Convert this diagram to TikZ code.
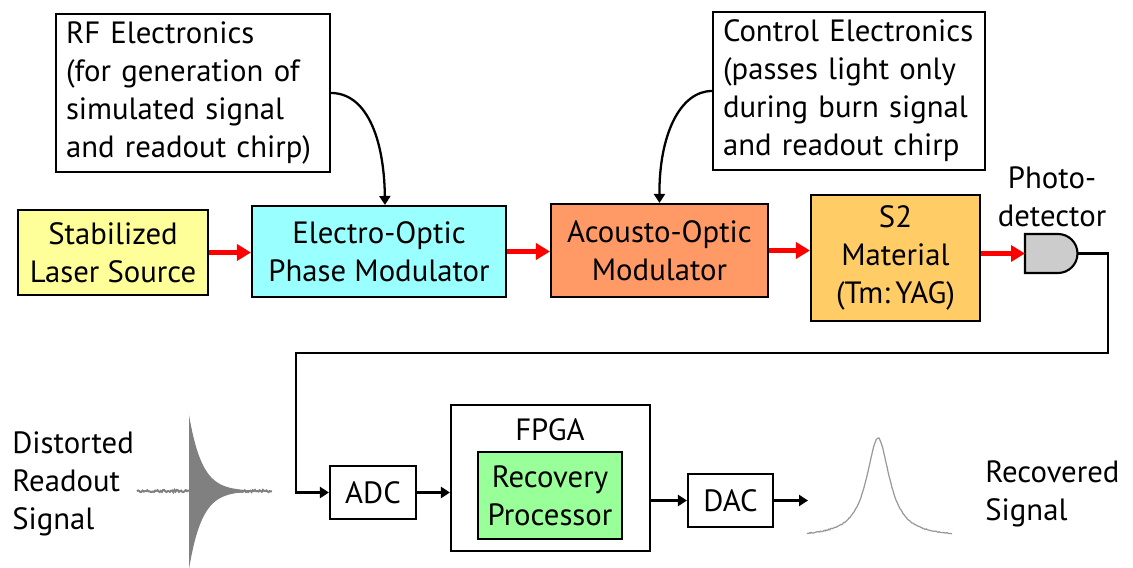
\documentclass[tikz,border=0pt]{standalone}
\usepackage{fontspec}
\setmainfont{PT Sans}
\usetikzlibrary{arrows.meta}

\definecolor{laserfill}{HTML}{FFFF99}
\definecolor{eomfill}{HTML}{99FFFF}
\definecolor{aomfill}{HTML}{FF9966}
\definecolor{crystalfill}{HTML}{FFCC66}
\definecolor{procfill}{HTML}{99FF99}

\begin{document}
\begin{tikzpicture}[x=0.02cm, y=-0.02cm,
    font=\fontsize{17.5}{21.6}\selectfont,
    box/.style={draw, line width=1.2pt, align=center, inner sep=0pt},
    note/.style={draw, line width=1.2pt, align=left, inner xsep=0.2cm,
        minimum height=3.16cm},
    beam/.style={red, line width=2.5pt, -{Triangle[length=0.28cm, width=0.32cm]}},
    wire/.style={line width=1.3pt, -{Triangle[length=0.18cm, width=0.22cm]}},
    trace/.style={gray, line width=1.1pt}]
    \useasboundingbox (0,0) rectangle (1133,568);

    % Optical chain
    \node[box, fill=laserfill, minimum width=3.8cm, minimum height=1.7cm]
        (laser) at (113,252.5) {Stabilized\\Laser Source};
    \node[box, fill=eomfill, minimum width=5.08cm, minimum height=1.82cm]
        (eom) at (379,251.5) {Electro-Optic\\Phase Modulator};
    \node[box, fill=aomfill, minimum width=4.34cm, minimum height=1.86cm]
        (aom) at (659.5,250.5) {Acousto-Optic\\Modulator};
    \node[box, fill=crystalfill, minimum width=3.38cm, minimum height=2.52cm]
        (crystal) at (895.5,258) {S2\\Material\\(Tm:\,YAG)};

    % Drive electronics
    \node[note, text width=5.08cm] (rf) at (193,93)
        {RF Electronics\\(for generation of\\simulated signal\\and readout chirp)};
    \node[note, text width=5.04cm] (ctrl) at (849,91)
        {Control Electronics\\(passes light only\\during burn signal\\and readout chirp};

    % Photodetector
    \coordinate (pdin) at (1025,253.5);
    \coordinate (pdout) at (1077.5,253.5);
    \draw[line width=1.2pt, fill=gray!40] (1025,234) -- (1058,234)
        arc[start angle=90, end angle=-90, radius=0.39cm] -- (1025,273) -- cycle;
    \node[align=center] (pdlabel) at (1052,197) {Photo-\\detector};

    % Digital chain
    \node[box, minimum width=1.72cm, minimum height=1.06cm] (adc) at (373,492.5) {ADC};
    \node[box, minimum width=3.98cm, minimum height=2.92cm] (fpga) at (550.5,478) {};
    \node (fpgalabel) at (550,430) {FPGA};
    \node[box, fill=procfill, minimum width=2.88cm, minimum height=1.74cm]
        (proc) at (550,495.5) {Recovery\\Processor};
    \node[box, minimum width=1.7cm, minimum height=1.06cm] (dac) at (730.5,500.5) {DAC};

    % Signal labels
    \node[anchor=west, align=left, inner sep=0pt] (distlabel) at (12,484)
        {Distorted\\Readout\\Signal};
    \node[anchor=west, align=left, inner sep=0pt] (reclabel) at (985,494)
        {Recovered\\Signal};

    % Beam path
    \draw[beam] (laser.east) -- (laser.east -| eom.west);
    \draw[beam] (eom.east) -- (eom.east -| aom.west);
    \draw[beam] (aom.east) -- (aom.east -| crystal.west);
    \draw[beam] (crystal.east |- pdin) -- (pdin);

    % Control lines
    \draw[wire] (rf.east) .. controls (365,93) and (384,135) .. ([xshift=0.12cm]eom.north);
    \draw[wire] (ctrl.west) .. controls (680,91) and (659,135) .. (aom.north);

    % Detector output to the ADC
    \coordinate (turnA) at (1108,353);
    \coordinate (turnB) at (296,353);
    \draw[wire] (pdout) -| (turnA) -- (turnB) |- (adc.west);
    \draw[wire] (adc.east) -- (adc.east -| fpga.west);
    \draw[wire] (fpga.east |- dac.west) -- (dac.west);
    \coordinate (sigout) at (808,500.5);
    \draw[wire] (dac.east) -- (sigout);

    % Distorted readout trace
    \pgfmathsetseed{7}
    \draw[trace] plot[domain=137:272, samples=120] (\x,{491+1.1*rand});
    \fill[gray] plot[domain=189:250, samples=60] (\x,{491-76*exp(-(\x-189)/13)})
        -- plot[domain=250:189, samples=60] (\x,{491+78*exp(-(\x-189)/13)}) -- cycle;

    % Recovered trace
    \draw[gray!80, line width=0.7pt] plot[domain=807:952, samples=160]
        (\x,{537-99/(1+((\x-878)/14)^2)+0.5*rand});
\end{tikzpicture}
\end{document}
